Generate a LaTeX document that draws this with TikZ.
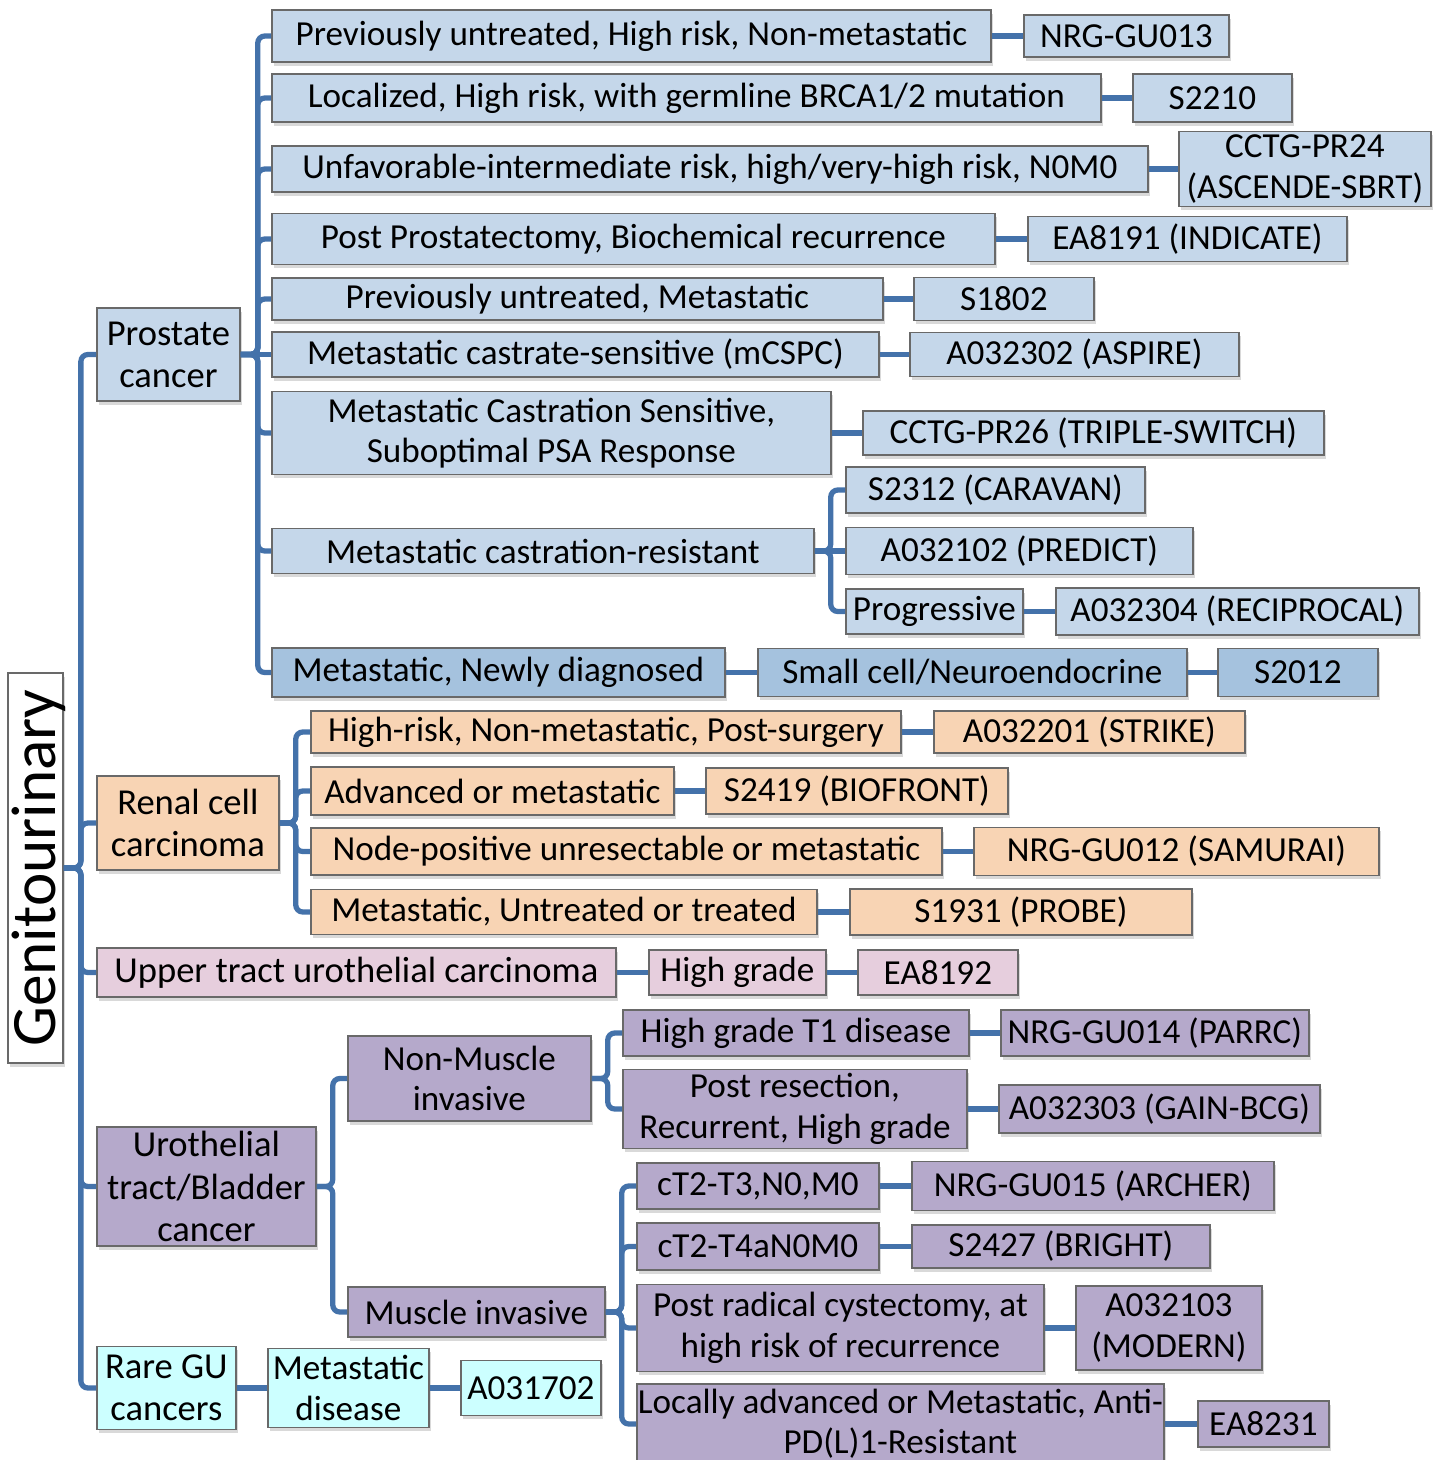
\documentclass[tikz,border=0pt]{standalone}
\usepackage{fontspec}
\setmainfont{Carlito}
\usetikzlibrary{shadows}
\definecolor{guLine}{RGB}{68,114,170}
\definecolor{guEdge}{RGB}{105,105,105}
\definecolor{prosBlue}{RGB}{197,215,234}
\definecolor{prosDark}{RGB}{165,194,222}
\definecolor{renalOrange}{RGB}{248,212,180}
\definecolor{utucPink}{RGB}{230,206,221}
\definecolor{bladPurple}{RGB}{181,169,203}
\definecolor{rareCyan}{RGB}{204,255,255}

\begin{document}
\begin{tikzpicture}[x=1cm,y=-1cm,
        box/.style={draw=guEdge,line width=0.5pt,anchor=west,align=center,inner xsep=0pt,inner ysep=1pt,font=\fontsize{10}{11.5}\selectfont,drop shadow={shadow xshift=0.7pt,shadow yshift=-1pt,opacity=0.3}},
        cat/.style={box,font=\fontsize{10.4}{12}\selectfont},
        link/.style={draw=guLine,line width=1.5pt,rounded corners=2pt}
      ]
        \path[use as bounding box] (0,0) rectangle (14.37,14.60);
        \clip (0,0) rectangle (14.37,14.60);

        \node[box,fill=white,rotate=90,anchor=center,inner ysep=0pt,minimum width=3.90cm,minimum height=0.55cm,text height=0.47cm,text depth=0.08cm,font=\fontsize{18}{20}\selectfont] (gu) at (0.355,8.68) {Genitourinary};

        \node[cat,fill=prosBlue,minimum width=1.43cm,minimum height=0.93cm] (prost) at (0.96,3.545) {Prostate\\cancer};
        \node[box,fill=prosBlue,minimum width=7.19cm,minimum height=0.52cm] (p1) at (2.71,0.36) {Previously untreated, High risk, Non-metastatic};
        \node[box,fill=prosBlue,minimum width=2.05cm,minimum height=0.42cm] (p1t) at (10.23,0.36) {NRG-GU013};
        \node[box,fill=prosBlue,minimum width=8.29cm,minimum height=0.48cm] (p2) at (2.71,0.98) {Localized, High risk, with germline BRCA1/2 mutation};
        \node[box,fill=prosBlue,minimum width=1.59cm,minimum height=0.48cm] (p2t) at (11.32,0.98) {S2210};
        \node[box,fill=prosBlue,minimum width=8.76cm,minimum height=0.46cm] (p3) at (2.71,1.69) {Unfavorable-intermediate risk, high/very-high risk, N0M0};
        \node[box,fill=prosBlue,minimum width=2.52cm,minimum height=0.68cm] (p3t) at (11.78,1.69) {CCTG-PR24\\(ASCENDE-SBRT)};
        \node[box,fill=prosBlue,minimum width=7.23cm,minimum height=0.51cm] (p4) at (2.71,2.39) {Post Prostatectomy, Biochemical recurrence};
        \node[box,fill=prosBlue,minimum width=3.19cm,minimum height=0.45cm] (p4t) at (10.27,2.39) {EA8191 (INDICATE)};
        \node[box,fill=prosBlue,minimum width=6.11cm,minimum height=0.42cm] (p5) at (2.71,2.99) {Previously untreated, Metastatic};
        \node[box,fill=prosBlue,minimum width=1.80cm,minimum height=0.43cm] (p5t) at (9.13,2.99) {S1802};
        \node[box,fill=prosBlue,minimum width=6.07cm,minimum height=0.45cm] (p6) at (2.71,3.545) {Metastatic castrate-sensitive (mCSPC)};
        \node[box,fill=prosBlue,minimum width=3.29cm,minimum height=0.44cm] (p6t) at (9.09,3.545) {A032302 (ASPIRE)};
        \node[box,fill=prosBlue,minimum width=5.59cm,minimum height=0.83cm] (p7) at (2.71,4.33) {Metastatic Castration Sensitive,\\Suboptimal PSA Response};
        \node[box,fill=prosBlue,minimum width=4.61cm,minimum height=0.44cm] (p7t) at (8.62,4.33) {CCTG-PR26 (TRIPLE-SWITCH)};
        \node[box,fill=prosBlue,minimum width=5.42cm,minimum height=0.45cm] (p8) at (2.71,5.51) {Metastatic castration-resistant};
        \node[box,fill=prosBlue,minimum width=2.99cm,minimum height=0.46cm] (p8a) at (8.45,4.90) {S2312 (CARAVAN)};
        \node[box,fill=prosBlue,minimum width=3.47cm,minimum height=0.47cm] (p8b) at (8.45,5.51) {A032102 (PREDICT)};
        \node[box,fill=prosBlue,minimum width=1.77cm,minimum height=0.45cm] (p8c) at (8.45,6.115) {Progressive};
        \node[box,fill=prosBlue,minimum width=3.63cm,minimum height=0.47cm] (p8d) at (10.55,6.115) {A032304 (RECIPROCAL)};
        \node[box,fill=prosDark,minimum width=4.53cm,minimum height=0.49cm] (p9) at (2.71,6.725) {Metastatic, Newly diagnosed};
        \node[box,fill=prosDark,minimum width=4.29cm,minimum height=0.48cm] (p9a) at (7.57,6.725) {Small cell/Neuroendocrine};
        \node[box,fill=prosDark,minimum width=1.60cm,minimum height=0.48cm] (p9b) at (12.17,6.725) {S2012};

        \node[cat,fill=renalOrange,minimum width=1.82cm,minimum height=0.94cm] (renal) at (0.96,8.23) {Renal cell\\carcinoma};
        \node[box,fill=renalOrange,minimum width=5.90cm,minimum height=0.42cm] (r1) at (3.10,7.32) {High-risk, Non-metastatic, Post-surgery};
        \node[box,fill=renalOrange,minimum width=3.11cm,minimum height=0.42cm] (r1t) at (9.33,7.32) {A032201 (STRIKE)};
        \node[box,fill=renalOrange,minimum width=3.63cm,minimum height=0.48cm] (r2) at (3.10,7.91) {Advanced or metastatic};
        \node[box,fill=renalOrange,minimum width=3.02cm,minimum height=0.46cm] (r2t) at (7.05,7.91) {S2419 (BIOFRONT)};
        \node[box,fill=renalOrange,minimum width=6.31cm,minimum height=0.47cm] (r3) at (3.10,8.515) {Node-positive unresectable or metastatic};
        \node[box,fill=renalOrange,minimum width=4.05cm,minimum height=0.48cm] (r3t) at (9.73,8.515) {NRG-GU012 (SAMURAI)};
        \node[box,fill=renalOrange,minimum width=5.06cm,minimum height=0.45cm] (r4) at (3.10,9.12) {Metastatic, Untreated or treated};
        \node[box,fill=renalOrange,minimum width=3.42cm,minimum height=0.46cm] (r4t) at (8.49,9.12) {S1931 (PROBE)};

        \node[cat,fill=utucPink,minimum width=5.19cm,minimum height=0.49cm] (utuc) at (0.96,9.725) {Upper tract urothelial carcinoma};
        \node[box,fill=utucPink,minimum width=1.77cm,minimum height=0.45cm] (u1) at (6.48,9.725) {High grade};
        \node[box,fill=utucPink,minimum width=1.60cm,minimum height=0.45cm] (u2) at (8.57,9.725) {EA8192};

        \node[cat,fill=bladPurple,minimum width=2.19cm,minimum height=1.19cm] (blad) at (0.96,11.865) {Urothelial\\tract/Bladder\\cancer};
        \node[box,fill=bladPurple,minimum width=2.43cm,minimum height=0.85cm] (nmi) at (3.47,10.785) {Non-Muscle\\invasive};
        \node[box,fill=bladPurple,minimum width=3.46cm,minimum height=0.46cm] (n1) at (6.22,10.33) {High grade T1 disease};
        \node[box,fill=bladPurple,minimum width=3.08cm,minimum height=0.46cm] (n1t) at (10.00,10.33) {NRG-GU014 (PARRC)};
        \node[box,fill=bladPurple,minimum width=3.44cm,minimum height=0.79cm] (n2) at (6.22,11.09) {Post resection,\\Recurrent, High grade};
        \node[box,fill=bladPurple,minimum width=3.21cm,minimum height=0.48cm] (n2t) at (9.98,11.09) {A032303 (GAIN-BCG)};
        \node[box,fill=bladPurple,minimum width=2.57cm,minimum height=0.50cm] (mi) at (3.47,13.12) {Muscle invasive};
        \node[box,fill=bladPurple,minimum width=2.42cm,minimum height=0.46cm] (m1) at (6.36,11.86) {cT2-T3,N0,M0};
        \node[box,fill=bladPurple,minimum width=3.62cm,minimum height=0.49cm] (m1t) at (9.11,11.86) {NRG-GU015 (ARCHER)};
        \node[box,fill=bladPurple,minimum width=2.42cm,minimum height=0.47cm] (m2) at (6.36,12.465) {cT2-T4aN0M0};
        \node[box,fill=bladPurple,minimum width=2.98cm,minimum height=0.43cm] (m2t) at (9.11,12.465) {S2427 (BRIGHT)};
        \node[box,fill=bladPurple,minimum width=4.07cm,minimum height=0.87cm] (m3) at (6.36,13.28) {Post radical cystectomy, at\\high risk of recurrence};
        \node[box,fill=bladPurple,minimum width=1.86cm,minimum height=0.84cm] (m3t) at (10.75,13.28) {A032103\\(MODERN)};
        \node[box,fill=bladPurple,minimum width=5.27cm,minimum height=0.80cm] (m4) at (6.36,14.24) {Locally advanced or Metastatic, Anti-\\PD(L)1-Resistant};
        \node[box,fill=bladPurple,minimum width=1.31cm,minimum height=0.46cm] (m4t) at (11.97,14.24) {EA8231};

        \node[cat,fill=rareCyan,minimum width=1.39cm,minimum height=0.83cm] (rare) at (0.96,13.88) {Rare GU\\cancers};
        \node[box,fill=rareCyan,minimum width=1.61cm,minimum height=0.79cm] (rd) at (2.67,13.88) {Metastatic\\disease};
        \node[box,fill=rareCyan,minimum width=1.40cm,minimum height=0.55cm] (rt) at (4.60,13.88) {A031702};

        \draw[link] (gu.south) -- ++(0.17,0) |- (prost.west);
        \draw[link] (gu.south) -- ++(0.17,0) |- (renal.west);
        \draw[link] (gu.south) -- ++(0.17,0) |- (utuc.west);
        \draw[link] (gu.south) -- ++(0.17,0) |- (blad.west);
        \draw[link] (gu.south) -- ++(0.17,0) |- (rare.west);

        \draw[link] (prost.east) -- ++(0.17,0) |- (p1.west);
        \draw[link] (prost.east) -- ++(0.17,0) |- (p2.west);
        \draw[link] (prost.east) -- ++(0.17,0) |- (p3.west);
        \draw[link] (prost.east) -- ++(0.17,0) |- (p4.west);
        \draw[link] (prost.east) -- ++(0.17,0) |- (p5.west);
        \draw[link] (prost.east) -- (p6.west);
        \draw[link] (prost.east) -- ++(0.17,0) |- (p7.west);
        \draw[link] (prost.east) -- ++(0.17,0) |- (p8.west);
        \draw[link] (prost.east) -- ++(0.17,0) |- (p9.west);
        \draw[link] (p1.east) -- (p1t.west);
        \draw[link] (p2.east) -- (p2t.west);
        \draw[link] (p3.east) -- (p3t.west);
        \draw[link] (p4.east) -- (p4t.west);
        \draw[link] (p5.east) -- (p5t.west);
        \draw[link] (p6.east) -- (p6t.west);
        \draw[link] (p7.east) -- (p7t.west);
        \draw[link] (p8.east) -- ++(0.16,0) |- (p8a.west);
        \draw[link] (p8.east) -- (p8b.west);
        \draw[link] (p8.east) -- ++(0.16,0) |- (p8c.west);
        \draw[link] (p8c.east) -- (p8d.west);
        \draw[link] (p9.east) -- (p9a.west);
        \draw[link] (p9a.east) -- (p9b.west);

        \draw[link] (renal.east) -- ++(0.16,0) |- (r1.west);
        \draw[link] (renal.east) -- ++(0.16,0) |- (r2.west);
        \draw[link] (renal.east) -- ++(0.16,0) |- (r3.west);
        \draw[link] (renal.east) -- ++(0.16,0) |- (r4.west);
        \draw[link] (r1.east) -- (r1t.west);
        \draw[link] (r2.east) -- (r2t.west);
        \draw[link] (r3.east) -- (r3t.west);
        \draw[link] (r4.east) -- (r4t.west);

        \draw[link] (utuc.east) -- (u1.west);
        \draw[link] (u1.east) -- (u2.west);

        \draw[link] (blad.east) -- ++(0.16,0) |- (nmi.west);
        \draw[link] (blad.east) -- ++(0.16,0) |- (mi.west);
        \draw[link] (nmi.east) -- ++(0.16,0) |- (n1.west);
        \draw[link] (nmi.east) -- ++(0.16,0) |- (n2.west);
        \draw[link] (n1.east) -- (n1t.west);
        \draw[link] (n2.east) -- (n2t.west);
        \draw[link] (mi.east) -- ++(0.16,0) |- (m1.west);
        \draw[link] (mi.east) -- ++(0.16,0) |- (m2.west);
        \draw[link] (mi.east) -- ++(0.16,0) |- (m3.west);
        \draw[link] (mi.east) -- ++(0.16,0) |- (m4.west);
        \draw[link] (m1.east) -- (m1t.west);
        \draw[link] (m2.east) -- (m2t.west);
        \draw[link] (m3.east) -- (m3t.west);
        \draw[link] (m4.east) -- (m4t.west);

        \draw[link] (rare.east) -- (rd.west);
        \draw[link] (rd.east) -- (rt.west);
      \end{tikzpicture}
\end{document}
